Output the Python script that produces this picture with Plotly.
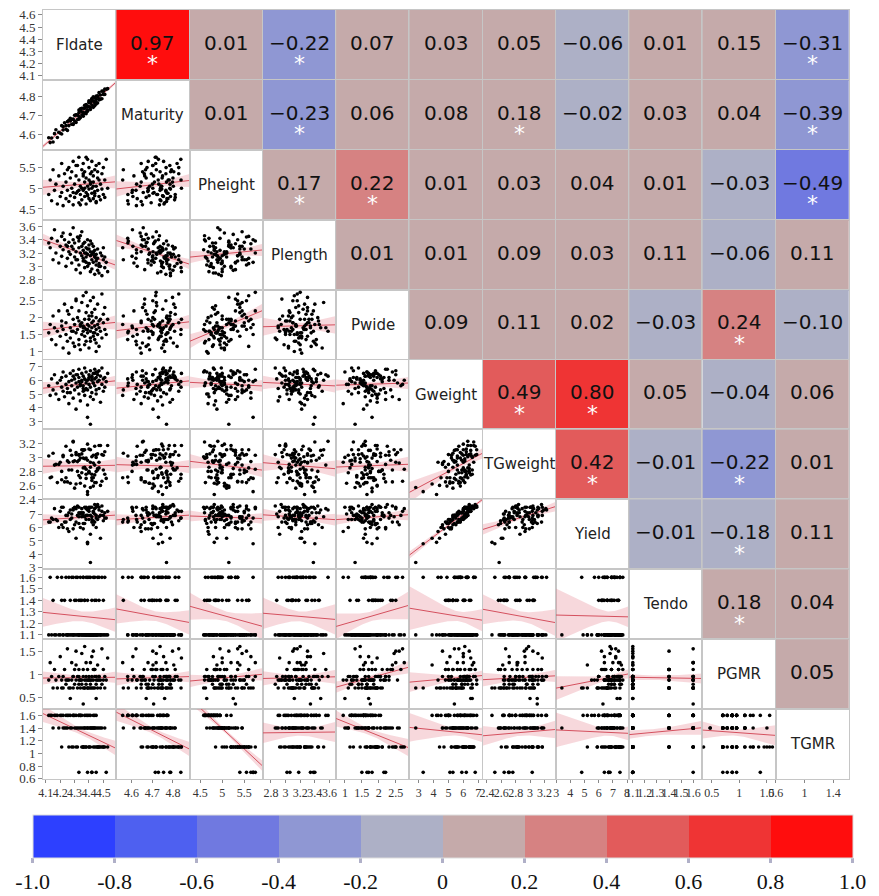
import numpy as np
import plotly.graph_objects as go
from plotly.subplots import make_subplots

names = ["Fldate", "Maturity", "Pheight", "Plength", "Pwide", "Gweight",
         "TGweight", "Yield", "Tendo", "PGMR", "TGMR"]

Fldate = [4.12, 4.13, 4.14, 4.15, 4.16, 4.17, 4.18, 4.19, 4.20, 4.21,
          4.21, 4.22, 4.22, 4.23, 4.24, 4.24, 4.25, 4.26, 4.26, 4.27,
          4.27, 4.28, 4.28, 4.29, 4.29, 4.30, 4.30, 4.31, 4.31, 4.32,
          4.32, 4.33, 4.33, 4.33, 4.34, 4.34, 4.35, 4.35, 4.35, 4.36,
          4.36, 4.36, 4.37, 4.37, 4.37, 4.38, 4.38, 4.38, 4.39, 4.39,
          4.39, 4.40, 4.40, 4.40, 4.41, 4.41, 4.41, 4.42, 4.42, 4.42,
          4.43, 4.43, 4.43, 4.44, 4.44, 4.44, 4.45, 4.45, 4.45, 4.46,
          4.46, 4.46, 4.47, 4.47, 4.48, 4.48, 4.49, 4.49, 4.50, 4.50,
          4.51, 4.51, 4.52, 4.53, 4.34, 4.38, 4.41, 4.29, 4.25, 4.45,
          4.36, 4.40, 4.43, 4.31, 4.39, 4.47, 4.33, 4.42, 4.37, 4.44]
Maturity = [4.583, 4.558, 4.582, 4.561, 4.605, 4.625, 4.585, 4.612, 4.607, 4.647,
            4.603, 4.642, 4.624, 4.662, 4.628, 4.647, 4.622, 4.675, 4.647, 4.671,
            4.685, 4.654, 4.680, 4.653, 4.681, 4.701, 4.671, 4.664, 4.704, 4.703,
            4.679, 4.729, 4.695, 4.715, 4.688, 4.726, 4.720, 4.703, 4.738, 4.696,
            4.738, 4.717, 4.754, 4.711, 4.738, 4.709, 4.748, 4.757, 4.730, 4.746,
            4.722, 4.767, 4.746, 4.777, 4.742, 4.766, 4.732, 4.776, 4.755, 4.785,
            4.776, 4.750, 4.798, 4.766, 4.793, 4.751, 4.785, 4.802, 4.769, 4.800,
            4.766, 4.804, 4.788, 4.820, 4.786, 4.808, 4.828, 4.788, 4.828, 4.811,
            4.839, 4.811, 4.838, 4.841, 4.735, 4.719, 4.769, 4.657, 4.668, 4.760,
            4.707, 4.771, 4.743, 4.703, 4.750, 4.782, 4.681, 4.789, 4.740, 4.772]
Pheight = [4.85, 5.20, 4.70, 5.45, 4.95, 5.10, 4.62, 5.30, 4.80, 5.60,
           4.90, 5.05, 4.58, 5.35, 4.75, 5.15, 4.95, 5.50, 4.68, 5.25,
           4.82, 5.40, 5.00, 4.60, 5.65, 5.10, 4.78, 5.30, 4.88, 5.55,
           4.92, 5.20, 4.65, 5.75, 5.05, 4.85, 5.45, 5.00, 4.72, 5.35,
           4.95, 5.60, 4.80, 5.15, 5.40, 4.90, 5.25, 4.62, 5.70, 5.05,
           4.85, 5.50, 4.98, 5.20, 4.70, 5.35, 5.10, 4.88, 5.65, 5.00,
           4.75, 5.30, 5.15, 4.92, 5.45, 4.82, 5.55, 5.05, 4.68, 5.25,
           4.95, 5.40, 4.80, 5.60, 5.10, 4.72, 5.35, 4.98, 5.50, 4.85,
           5.20, 4.78, 5.70, 5.00, 4.60, 5.75, 5.15, 4.90, 5.45, 4.65,
           5.30, 4.75, 5.05, 5.55, 4.82, 5.20, 4.95, 5.40, 5.00, 4.88]
Plength = [3.35, 3.28, 3.42, 3.10, 3.55, 3.20, 3.38, 3.05, 3.30, 3.45,
           3.15, 3.50, 3.25, 3.40, 3.00, 3.32, 3.12, 3.36, 3.22, 3.48,
           3.18, 3.30, 3.05, 3.40, 3.26, 3.14, 3.35, 2.95, 3.22, 3.44,
           3.10, 3.28, 3.02, 3.38, 3.20, 2.90, 3.52, 3.16, 3.30, 3.08,
           3.24, 3.12, 2.98, 3.36, 3.20, 3.06, 3.28, 3.14, 3.40, 3.00,
           3.18, 3.26, 3.04, 3.32, 2.92, 3.16, 3.22, 3.10, 3.34, 2.96,
           3.20, 3.06, 3.30, 2.88, 3.14, 3.24, 3.02, 3.18, 3.08, 2.94,
           3.12, 3.26, 2.90, 3.04, 3.20, 3.00, 3.16, 2.86, 3.10, 3.28,
           2.98, 3.14, 3.06, 2.92, 3.46, 3.20, 3.38, 3.58, 3.30, 3.12,
           3.34, 3.04, 3.22, 3.10, 3.26, 3.00, 3.42, 3.18, 3.08, 3.16]
Pwide = [1.55, 1.80, 1.35, 2.05, 1.70, 1.20, 1.60, 2.20, 1.45, 1.90,
         1.75, 1.10, 1.65, 2.40, 1.50, 1.85, 1.30, 2.10, 0.95, 1.70,
         1.40, 2.30, 1.60, 1.25, 1.95, 1.80, 1.15, 2.55, 1.55, 2.00,
         1.65, 1.35, 1.90, 2.20, 1.05, 1.75, 2.45, 1.50, 1.85, 1.60,
         1.70, 2.65, 1.20, 1.95, 1.45, 2.15, 1.65, 1.30, 1.80, 1.55,
         2.35, 1.75, 1.10, 1.95, 1.60, 2.50, 1.40, 1.85, 1.70, 2.05,
         1.55, 1.90, 2.60, 1.35, 1.75, 2.25, 1.65, 1.25, 2.00, 1.80,
         1.50, 2.40, 1.70, 1.15, 1.95, 1.60, 2.70, 1.40, 1.85, 2.10,
         1.65, 2.30, 1.50, 1.95, 1.80, 2.75, 1.30, 1.60, 2.20, 1.00,
         1.75, 2.05, 1.45, 2.50, 1.65, 1.90, 1.20, 2.15, 1.70, 1.55]
Gweight = [5.6, 4.9, 6.1, 5.3, 6.4, 5.0, 5.8, 4.6, 6.0, 5.5,
           6.2, 5.2, 6.6, 4.8, 5.7, 6.3, 5.4, 5.9, 4.3, 6.5,
           5.1, 6.0, 5.6, 6.7, 4.7, 5.3, 6.1, 5.8, 3.9, 6.4,
           5.5, 6.2, 5.0, 6.8, 5.7, 4.5, 6.0, 5.9, 6.5, 5.2,
           6.3, 5.6, 6.9, 4.9, 6.1, 5.4, 6.6, 5.8, 3.3, 6.0,
           5.3, 6.4, 5.7, 6.2, 4.8, 6.7, 5.5, 6.0, 5.1, 6.3,
           5.8, 6.5, 4.6, 6.1, 5.6, 6.8, 5.3, 6.2, 5.0, 6.4,
           5.9, 6.6, 5.4, 6.0, 4.4, 6.3, 5.7, 6.9, 5.2, 6.1,
           5.5, 6.2, 5.9, 6.5, 5.6, 6.0, 2.8, 6.3, 5.1, 6.6,
           5.4, 6.1, 5.8, 6.4, 4.2, 6.7, 5.9, 6.2, 5.3, 6.5]
TGweight = [3.02, 2.71, 2.72, 3.06, 2.89, 2.90, 2.64, 2.90, 2.93, 2.68,
            2.80, 3.03, 3.01, 2.65, 3.16, 2.71, 2.95, 2.82, 2.93, 3.10,
            2.63, 3.03, 2.82, 3.22, 2.94, 2.56, 2.95, 3.07, 2.62, 2.80,
            2.94, 2.74, 3.04, 3.03, 2.63, 2.71, 3.11, 2.78, 3.05, 2.99,
            2.85, 3.11, 3.11, 2.59, 2.98, 2.70, 2.76, 2.99, 2.51, 3.19,
            2.96, 2.78, 2.78, 3.12, 2.86, 2.93, 3.11, 2.67, 2.71, 3.01,
            2.71, 3.03, 2.92, 2.64, 2.89, 3.16, 2.64, 3.04, 2.80, 2.84,
            3.05, 2.82, 2.93, 2.85, 2.60, 3.17, 2.66, 3.04, 3.03, 2.82,
            2.76, 3.08, 2.70, 3.17, 2.99, 2.83, 2.57, 3.23, 2.65, 3.00,
            3.10, 2.80, 2.59, 3.04, 2.47, 3.17, 2.96, 2.76, 2.86, 2.75]
Yield = [6.4, 6.4, 6.7, 6.6, 7.4, 6.6, 6.5, 6.0, 7.2, 6.2,
         7.5, 6.0, 7.5, 6.4, 6.4, 6.9, 6.9, 7.1, 5.7, 7.3,
         6.6, 6.7, 7.0, 7.4, 5.9, 6.2, 7.5, 6.4, 5.2, 7.6,
         6.9, 6.8, 6.3, 7.5, 7.0, 6.0, 6.8, 7.1, 7.4, 5.9,
         7.1, 6.9, 7.5, 6.3, 6.8, 6.9, 7.5, 6.6, 4.8, 7.3,
         6.9, 7.2, 6.6, 7.4, 5.5, 7.5, 6.9, 6.6, 6.4, 7.5,
         7.1, 7.2, 6.2, 7.0, 6.4, 7.7, 6.7, 6.9, 6.0, 7.7,
         6.6, 7.6, 6.8, 7.3, 5.2, 6.9, 7.2, 7.6, 6.5, 6.9,
         6.7, 7.1, 6.7, 7.2, 7.1, 7.4, 3.4, 7.3, 5.9, 7.5,
         6.3, 7.5, 6.5, 7.4, 4.9, 7.5, 7.1, 6.8, 6.8, 7.4]
Tendo = [1.1, 1.6, 1.1, 1.4, 1.1, 1.1, 1.6, 1.1, 1.1, 1.4,
         1.6, 1.1, 1.1, 1.4, 1.1, 1.6, 1.1, 1.1, 1.6, 1.1,
         1.4, 1.1, 1.6, 1.1, 1.1, 1.4, 1.1, 1.6, 1.1, 1.1,
         1.6, 1.1, 1.4, 1.1, 1.1, 1.6, 1.1, 1.1, 1.4, 1.1,
         1.6, 1.1, 1.1, 1.4, 1.1, 1.6, 1.1, 1.1, 1.6, 1.1,
         1.4, 1.1, 1.6, 1.1, 1.1, 1.6, 1.1, 1.4, 1.1, 1.1,
         1.6, 1.1, 1.1, 1.4, 1.1, 1.6, 1.1, 1.1, 1.4, 1.1,
         1.6, 1.1, 1.1, 1.4, 1.1, 1.1, 1.6, 1.1, 1.1, 1.4,
         1.1, 1.6, 1.1, 1.1, 1.4, 1.1, 1.1, 1.6, 1.1, 1.1,
         1.6, 1.1, 1.1, 1.4, 1.1, 1.6, 1.1, 1.1, 1.4, 1.1]
PGMR = [0.87, 1.25, 0.95, 0.70, 1.10, 0.87, 0.70, 0.95, 1.38, 0.70,
        0.87, 0.95, 0.70, 1.10, 0.87, 0.78, 1.55, 0.70, 0.87, 0.47,
        0.70, 0.87, 1.25, 0.95, 0.70, 1.10, 0.78, 0.87, 1.20, 0.95,
        0.70, 0.87, 1.10, 0.95, 0.87, 0.70, 1.45, 0.78, 0.87, 0.70,
        0.95, 1.10, 0.87, 0.70, 1.60, 0.87, 0.78, 0.95, 0.70, 0.87,
        1.10, 0.87, 0.70, 0.95, 0.87, 1.25, 0.78, 0.70, 1.38, 0.95,
        0.87, 0.70, 1.50, 0.95, 0.70, 1.10, 0.78, 0.87, 0.95, 0.87,
        0.70, 1.20, 0.87, 0.95, 0.70, 0.87, 1.55, 0.78, 0.87, 1.10,
        0.70, 0.95, 0.87, 1.35, 0.87, 1.25, 0.70, 0.95, 0.87, 0.47,
        0.35, 0.87, 1.10, 1.50, 0.70, 0.95, 0.78, 0.87, 0.70, 1.10]
TGMR = [1.6, 1.6, 1.6, 1.4, 1.6, 1.6, 1.6, 1.4, 1.6, 1.1,
        1.6, 1.4, 1.6, 1.4, 1.6, 1.4, 1.6, 1.1, 1.6, 1.4,
        1.6, 1.1, 1.4, 1.6, 1.1, 1.4, 1.6, 1.4, 1.6, 1.1,
        1.4, 1.4, 1.6, 0.7, 1.4, 1.6, 1.1, 1.4, 1.6, 1.1,
        1.4, 1.1, 1.6, 1.4, 1.1, 1.4, 1.1, 1.6, 0.7, 1.4,
        1.4, 1.1, 1.4, 1.1, 1.6, 1.1, 1.4, 1.4, 0.7, 1.4,
        1.6, 1.1, 1.4, 1.4, 1.1, 1.4, 0.7, 1.1, 1.6, 1.1,
        1.4, 1.1, 1.4, 1.1, 1.1, 1.4, 1.1, 1.4, 1.1, 1.1,
        1.1, 1.4, 0.7, 1.1, 1.6, 1.1, 1.4, 1.6, 1.4, 1.4,
        1.1, 1.6, 1.4, 1.1, 1.6, 1.1, 1.6, 0.7, 1.4, 1.6]

# correlations (upper triangle, row by row) and significance marks
corr_rows = [
    [0.97, 0.01, -0.22, 0.07, 0.03, 0.05, -0.06, 0.01, 0.15, -0.31],
    [0.01, -0.23, 0.06, 0.08, 0.18, -0.02, 0.03, 0.04, -0.39],
    [0.17, 0.22, 0.01, 0.03, 0.04, 0.01, -0.03, -0.49],
    [0.01, 0.01, 0.09, 0.03, 0.11, -0.06, 0.11],
    [0.09, 0.11, 0.02, -0.03, 0.24, -0.10],
    [0.49, 0.797, 0.05, -0.04, 0.06],
    [0.42, -0.01, -0.22, 0.01],
    [-0.01, -0.18, 0.11],
    [0.18, 0.04],
    [0.05],
]
sig_rows = [
    [1, 0, 1, 0, 0, 0, 0, 0, 0, 1],
    [0, 1, 0, 0, 1, 0, 0, 0, 1],
    [1, 1, 0, 0, 0, 0, 0, 1],
    [0, 0, 0, 0, 0, 0, 0],
    [0, 0, 0, 0, 1, 0],
    [1, 1, 0, 0, 0],
    [1, 0, 1, 0],
    [0, 1, 0],
    [1, 0],
    [0],
]

x_ranges = [[4.08, 4.59], [4.527, 4.88], [4.26, 5.92], [2.69, 3.69], [0.74, 2.9],
            [2.37, 7.3], [2.34, 3.36], [2.98, 8.15], [1.07, 1.677], [0.33, 1.66], [0.6, 1.62]]
y_ranges = [[4.067, 4.64], [4.52, 4.887], [4.24, 5.93], [2.65, 3.70], [0.76, 2.83],
            [2.42, 7.51], [2.40, 3.40], [2.9, 8.09], [1.063, 1.67], [0.24, 1.76], [0.595, 1.70]]
x_ticks = [[4.1, 4.2, 4.3, 4.4, 4.5], [4.6, 4.7, 4.8], [4.5, 5, 5.5], [2.8, 3, 3.2, 3.4, 3.6],
           [1, 1.5, 2, 2.5], [3, 4, 5, 6, 7], [2.4, 2.6, 2.8, 3, 3.2], [3, 4, 5, 6, 7, 8],
           [1.1, 1.2, 1.3, 1.4, 1.5, 1.6], [0.5, 1, 1.5], [0.6, 1, 1.4]]
y_ticks = [[4.1, 4.2, 4.3, 4.4, 4.5, 4.6], [4.6, 4.7, 4.8], [4.5, 5, 5.5], [2.8, 3, 3.2, 3.4, 3.6],
           [1, 1.5, 2, 2.5], [3, 4, 5, 6, 7], [2.4, 2.6, 2.8, 3, 3.2], [3, 4, 5, 6, 7],
           [1.1, 1.2, 1.3, 1.4, 1.5, 1.6], [0.5, 1, 1.5], [0.6, 0.8, 1, 1.2, 1.4, 1.6]]

bin_colors = ["#2d40ff", "#4e60f0", "#7079e0", "#8f97d3", "#adb0c6",
              "#c5aaaa", "#d68282", "#e25b5b", "#ef3434", "#ff0d0d"]
cb_vals = [-1.0, -0.8, -0.6, -0.4, -0.2, 0, 0.2, 0.4, 0.6, 0.8, 1.0]
cb_text = ["-1.0", "-0.8", "-0.6", "-0.4", "-0.2", "0", "0.2", "0.4", "0.6", "0.8", "1.0"]

data = [Fldate, Maturity, Pheight, Plength, Pwide, Gweight, TGweight, Yield, Tendo, PGMR, TGMR]
n = len(names)

colorscale = []
for k, c in enumerate(bin_colors):
    colorscale.append([k / 10, c])
    colorscale.append([(k + 1) / 10, c])

fig = make_subplots(rows=n, cols=n, horizontal_spacing=0, vertical_spacing=0)

def sfx(i, j):
    k = i * n + j + 1
    return "" if k == 1 else str(k)

ann = []
SANS = "DejaVu Sans"
SERIF = "Liberation Serif"

for i in range(n):
    for j in range(n):
        s = sfx(i, j)
        if i > j:
            x = np.array(data[j], dtype=float)
            y = np.array(data[i], dtype=float)
            b, a = np.polyfit(x, y, 1)
            xs = np.linspace(x_ranges[j][0], x_ranges[j][1], 60)
            yh = a + b * xs
            res = y - (a + b * x)
            N = len(x)
            sd = np.sqrt(np.sum(res ** 2) / (N - 2))
            sxx = np.sum((x - x.mean()) ** 2)
            se = sd * np.sqrt(1.0 / N + (xs - x.mean()) ** 2 / sxx)
            up = yh + 1.984 * se
            lo = yh - 1.984 * se
            fig.add_trace(go.Scatter(x=np.concatenate([xs, xs[::-1]]),
                                     y=np.concatenate([up, lo[::-1]]),
                                     fill="toself", fillcolor="rgba(228,125,140,0.3)",
                                     line=dict(width=0), mode="lines", hoverinfo="skip"),
                          row=i + 1, col=j + 1)
            fig.add_trace(go.Scatter(x=xs, y=yh, mode="lines",
                                     line=dict(color="#d4505e", width=1), hoverinfo="skip"),
                          row=i + 1, col=j + 1)
            fig.add_trace(go.Scatter(x=x, y=y, mode="markers",
                                     marker=dict(color="black", size=3.6)),
                          row=i + 1, col=j + 1)
            xr, yr = x_ranges[j], y_ranges[i]
        elif i == j:
            xr, yr = x_ranges[j], y_ranges[i]
            fig.add_trace(go.Scatter(x=[], y=[], mode="markers", hoverinfo="skip"),
                          row=i + 1, col=j + 1)
            ann.append(dict(xref="x%s domain" % s, yref="y%s domain" % s, x=0.5, y=0.5,
                            text=names[i], showarrow=False,
                            font=dict(family=SANS, size=15, color="#222")))
        else:
            r = corr_rows[i][j - i - 1]
            sg = sig_rows[i][j - i - 1]
            fig.add_trace(go.Heatmap(z=[[r]], x=[0], y=[0], coloraxis="coloraxis",
                                     hoverinfo="skip"), row=i + 1, col=j + 1)
            ann.append(dict(xref="x%s" % s, yref="y%s" % s, x=0, y=0.03,
                            text=("%.2f" % r).replace("-", "\u2212"), showarrow=False,
                            font=dict(family=SANS, size=20, color="#111")))
            if sg:
                ann.append(dict(xref="x%s" % s, yref="y%s" % s, x=0, y=-0.27,
                                text="*", showarrow=False,
                                font=dict(family=SANS, size=22, color="white")))
            xr, yr = [-0.5, 0.5], [-0.5, 0.5]

        xa = dict(range=xr, showline=True, mirror=True, linecolor="#c6c6c6", linewidth=1,
                  showgrid=False, zeroline=False, fixedrange=True, automargin=False)
        ya = dict(range=yr, showline=True, mirror=True, linecolor="#c6c6c6", linewidth=1,
                  showgrid=False, zeroline=False, fixedrange=True, automargin=False)
        if i == n - 1:
            xa.update(tickmode="array", tickvals=x_ticks[j], ticks="outside", ticklen=3,
                      tickcolor="#888", showticklabels=True, tickangle=0,
                      tickfont=dict(family=SERIF, size=12, color="#333"))
        else:
            xa.update(showticklabels=False, ticks="")
        if j == 0:
            ya.update(tickmode="array", tickvals=y_ticks[i], ticks="outside", ticklen=4,
                      tickcolor="#888", showticklabels=True,
                      tickfont=dict(family=SERIF, size=13, color="#333"))
        else:
            ya.update(showticklabels=False, ticks="")
        fig.update_xaxes(xa, row=i + 1, col=j + 1)
        fig.update_yaxes(ya, row=i + 1, col=j + 1)

fig.update_layout(
    width=879, height=896,
    margin=dict(l=43, r=30, t=10, b=117, autoexpand=False),
    plot_bgcolor="white", paper_bgcolor="white",
    showlegend=False,
    annotations=ann,
    coloraxis=dict(
        colorscale=colorscale, cmin=-1, cmax=1,
        colorbar=dict(orientation="h", x=0.4957, xanchor="center",
                      y=-0.0468, yanchor="top", len=820, lenmode="pixels",
                      thickness=43, xpad=0, ypad=0,
                      outlinewidth=1, outlinecolor="#dddddd",
                      tickmode="array", tickvals=cb_vals, ticktext=cb_text,
                      ticks="outside", ticklen=5, tickwidth=3, tickcolor="#b0b0c8",
                      tickfont=dict(family=SERIF, size=22, color="#111")),
    ),
)

fig.write_html("out.html", config={"displayModeBar": False},
               post_script="document.body.style.margin='0px';")
